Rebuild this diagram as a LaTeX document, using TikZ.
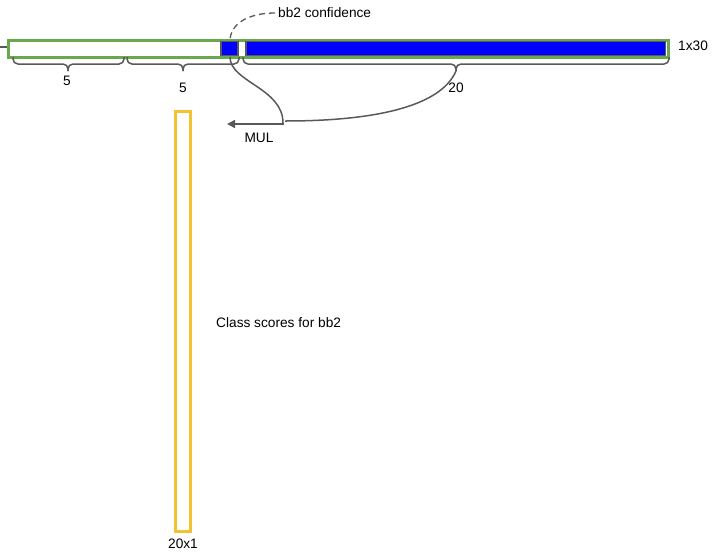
\documentclass[tikz,border=0pt]{standalone}
\usepackage{fontspec}
\setmainfont{Liberation Sans}
\usetikzlibrary{arrows.meta}
\definecolor{gr}{HTML}{6AA84F}
\definecolor{dk}{HTML}{595959}
\definecolor{yl}{HTML}{F1C232}
\definecolor{bl}{HTML}{0000FF}
\tikzset{
  lbl/.style={font=\fontsize{13.7}{16}\selectfont, text=black, inner sep=0pt},
  brc/.style={draw=dk, line width=1.5pt, rounded corners=5pt},
  conn/.style={draw=dk, line width=1.5pt},
  bluebox/.style={fill=bl, draw=dk, line width=1.5pt},
}
\begin{document}
\begin{tikzpicture}[x=1pt,y=-1pt]
\useasboundingbox (0,0) rectangle (719,552);
% left stub
\coordinate (stubA) at (0,47);
\coordinate (stubB) at (7,47);
\draw[conn] (stubA) -- (stubB);
% main vector
\draw[gr, line width=3pt, fill=white] (8,40) rectangle (668,57);
\draw[bluebox] (221,41.5) rectangle (238,55.5);
\draw[bluebox] (246,41.5) rectangle (665.5,55.5);
\node[lbl, anchor=west] (dim) at (678,46) {1x30};
% braces
\coordinate (t1) at (68,71);
\coordinate (t2) at (183,71);
\coordinate (t3) at (456,71);
\path[brc] (13,57) |- (68,64) -- (t1);
\path[brc] (124,57) |- (68,64) -- (t1);
\path[brc] (127,57) |- (183,64) -- (t2);
\path[brc] (239,57) |- (183,64) -- (t2);
\path[brc] (243,57) |- (456,64) -- (t3);
\path[brc] (669,57) |- (456,64) -- (t3);
\node[lbl] (n1) at (67,81) {5};
\node[lbl] (n2) at (183,88) {5};
\node[lbl] (n3) at (456,88) {20};
% confidence
\node[lbl, anchor=west] (conf) at (278,13) {bb2 confidence};
\coordinate (cBox) at (230,41);
\coordinate (cBelow) at (230,57);
\coordinate (jn) at (283,123);
\coordinate (jn2) at (285,121);
\coordinate (arrEnd) at (227,124);
\draw[dk, line width=1.3pt, dash pattern=on 6pt off 4pt] (conf.west) ++(-3,0) .. controls (248,13) and (230,24) .. (cBox);
\draw[conn] (cBelow) .. controls (230,82) and (283,88) .. (jn);
\draw[conn] (t3) .. controls (440,108) and (370,121) .. (jn2);
\draw[conn, -{Triangle[length=8pt,width=8pt]}] (284,124) -- (arrEnd);
\node[lbl] (mul) at (259,138) {MUL};
% class scores
\draw[yl, line width=3pt] (175,111) rectangle (190,531);
\node[lbl] (dim2) at (183,544) {20x1};
\node[lbl, anchor=west] (cls) at (216,323) {Class scores for bb2};
\end{tikzpicture}
\end{document}
